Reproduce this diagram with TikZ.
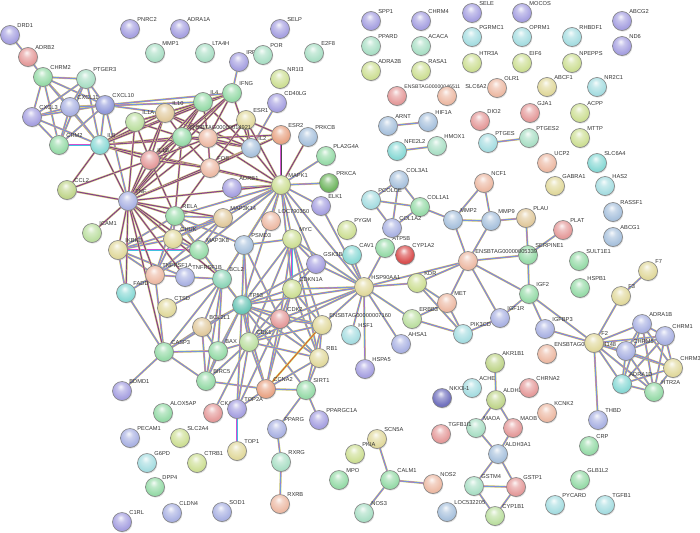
\documentclass[tikz,border=0pt]{standalone}
\usepackage{fontspec}
\setmainfont{Liberation Sans}
\usetikzlibrary{backgrounds,shadows}
\definecolor{pur}{HTML}{A49EE0}
\definecolor{peri}{HTML}{A8B0E2}
\definecolor{blu}{HTML}{9098DA}
\definecolor{grn}{HTML}{94DAA6}
\definecolor{mint}{HTML}{A8DEC4}
\definecolor{lgrn}{HTML}{BADE9E}
\definecolor{ygrn}{HTML}{CCDE92}
\definecolor{olive}{HTML}{BED488}
\definecolor{tan}{HTML}{E0C89A}
\definecolor{khaki}{HTML}{E0D89A}
\definecolor{peach}{HTML}{ECB8A2}
\definecolor{orng}{HTML}{E8A282}
\definecolor{redd}{HTML}{E49898}
\definecolor{red2}{HTML}{D84848}
\definecolor{teal}{HTML}{86D8D4}
\definecolor{lteal}{HTML}{A4DCE0}
\definecolor{tealg}{HTML}{8AD4B6}
\definecolor{dteal}{HTML}{66C4B4}
\definecolor{bgray}{HTML}{A6C0DC}
\definecolor{dgrn}{HTML}{6CB45C}
\definecolor{navy}{HTML}{6C6CBC}
\definecolor{ecyan}{HTML}{40C0E0}
\definecolor{eyel}{HTML}{C8E060}
\definecolor{emag}{HTML}{D050D0}
\definecolor{ered}{HTML}{E04030}
\colorlet{gcol}{white}
\pgfdeclareradialshading[gcol]{gball}{\pgfpoint{-4bp}{12bp}}{color(0bp)=(gcol!10!white); color(10bp)=(gcol!60!white); color(24bp)=(gcol!95!white); color(38bp)=(gcol!92!black); color(50bp)=(gcol!72!black)}
\tikzset{
 gcolor/.code={\colorlet{gcol}{#1}},
 gnode/.style={circle, minimum size=19pt, inner sep=0pt, draw=black!50, line width=0.6pt, gcolor=#1, shading=gball, label distance=0.5pt,
   drop shadow={opacity=0.25, shadow xshift=0.8pt, shadow yshift=-1.1pt}},
 glabel/.style={font=\fontsize{5.7}{6}\selectfont, text=black!80, inner sep=0.3pt},
 edA/.style={draw=ecyan, line width=0.45pt, preaction={draw=eyel, line width=2.0pt}, preaction={draw=emag, line width=1.2pt}},
 edB/.style={draw=black!70, line width=0.45pt, preaction={draw=eyel, line width=2.0pt}, preaction={draw=emag, line width=1.2pt}},
 edR/.style={draw=ered, line width=0.7pt, preaction={draw=eyel, line width=2.0pt}},
}
\newcommand\gn[5]{\node[gnode=#4, label={[glabel]45:#5}] (#1) at (#2,#3) {};}
\newcommand\gu[4]{\node[gnode=#4] (#1) at (#2,#3) {};}
\begin{document}
\begin{tikzpicture}[x=1pt,y=-1pt]
\useasboundingbox (0,0) rectangle (700,532);
% nodes
\gn{drd1}{10}{35}{pur}{DRD1}
\gn{adrb2}{28}{57}{redd}{ADRB2}
\gn{chrm2}{43}{77}{grn}{CHRM2}
\gn{ptger3}{86}{79}{mint}{PTGER3}
\gn{cxcl11}{70}{107}{peri}{CXCL11}
\gn{cxcl10}{105}{105}{blu}{CXCL10}
\gn{cxcl3}{32}{117}{pur}{CXCL3}
\gn{crm2}{59}{145}{grn}{CRM2}
\gn{il8}{100}{145}{teal}{IL8}
\gn{pnrc2}{130}{29}{pur}{PNRC2}
\gn{adra1a}{180}{29}{pur}{ADRA1A}
\gn{mmp1}{155}{53}{mint}{MMP1}
\gn{lta4h}{205}{53}{mint}{LTA4H}
\gn{il1a}{135}{122}{lgrn}{IL1A}
\gn{il10}{165}{113}{tan}{IL10}
\gn{il4}{203}{102}{grn}{IL4}
\gn{ifng}{232}{93}{grn}{IFNG}
\gn{irf1}{239}{62}{pur}{IRF1}
\gn{selp}{280}{29}{pur}{SELP}
\gn{por}{263}{55}{mint}{POR}
\gn{e2f8}{314}{53}{mint}{E2F8}
\gn{nr1i3}{280}{79}{ygrn}{NR1I3}
\gn{cd40lg}{277}{103}{pur}{CD40LG}
\gn{esr1}{246}{120}{khaki}{ESR1}
\gn{ens14921}{182}{137}{grn}{ENSBTAG00000014921}
\gu{ensor}{208}{138}{peach}
\gn{il2}{251}{148}{bgray}{IL2}
\gn{esr2}{281}{135}{orng}{ESR2}
\gn{prkcb}{308}{137}{bgray}{PRKCB}
\gn{il1b}{150}{160}{redd}{IL1B}
\gn{fos}{210}{168}{peach}{FOS}
\gn{ccl2}{67}{190}{olive}{CCL2}
\gn{tnf}{128}{201}{peri}{TNF}
\gn{adrb1}{232}{188}{pur}{ADRB1}
\gn{rela}{175}{216}{grn}{RELA}
\gn{map3k14}{223}{218}{tan}{MAP3K14}
\gn{icam1}{92}{233}{lgrn}{ICAM1}
\gn{chuk}{173}{239}{khaki}{CHUK}
\gn{ikbkb}{118}{250}{khaki}{IKBKB}
\gn{map3k8}{199}{250}{grn}{MAP3K8}
\gn{tnfrsf1a}{155}{275}{peach}{TNFRSF1A}
\gn{tnfrsf1b}{185}{277}{peri}{TNFRSF1B}
\gn{fadd}{126}{293}{teal}{FADD}
\gn{bcl2}{222}{279}{tealg}{BCL2}
\gn{ctsd}{167}{308}{khaki}{CTSD}
\gn{bcl2l1}{202}{327}{tan}{BCL2L1}
\gn{casp3}{164}{352}{grn}{CASP3}
\gn{bax}{218}{351}{grn}{BAX}
\gn{birc5}{206}{381}{grn}{BIRC5}
\gn{bdmd1}{122}{391}{pur}{BDMD1}
\gn{mapk1}{281}{185}{ygrn}{MAPK1}
\gn{pla2g4a}{326}{156}{grn}{PLA2G4A}
\gn{prkca}{329}{183}{dgrn}{PRKCA}
\gn{elk1}{321}{206}{pur}{ELK1}
\gn{loc790350}{271}{221}{peach}{LOC790350}
\gn{psmd3}{244}{245}{bgray}{PSMD3}
\gn{myc}{292}{239}{ygrn}{MYC}
\gn{pygm}{347}{230}{ygrn}{PYGM}
\gn{gsk3b}{316}{264}{pur}{GSK3B}
\gn{cav1}{352}{255}{teal}{CAV1}
\gn{atp5b}{385}{248}{grn}{ATP5B}
\gn{cyp1a2}{405}{255}{red2}{CYP1A2}
\gn{col3a1}{399}{180}{bgray}{COL3A1}
\gn{pcolce}{371}{200}{lteal}{PCOLCE}
\gn{col1a1}{420}{207}{grn}{COL1A1}
\gn{col1a2}{392}{228}{peri}{COL1A2}
\gn{nfe2l2}{397}{151}{teal}{NFE2L2}
\gn{hmox1}{437}{146}{mint}{HMOX1}
\gn{arnt}{388}{126}{bgray}{ARNT}
\gn{hif1a}{428}{122}{bgray}{HIF1A}
\gn{mmp2}{453}{220}{bgray}{MMP2}
\gn{ncf1}{484}{183}{peach}{NCF1}
\gn{mmp9}{491}{221}{bgray}{MMP9}
\gn{plau}{526}{218}{tan}{PLAU}
\gn{plat}{563}{230}{redd}{PLAT}
\gn{serpine1}{528}{255}{grn}{SERPINE1}
\gn{ens5339}{468}{261}{peach}{ENSBTAG00000005339}
\gn{sult1e1}{579}{261}{grn}{SULT1E1}
\gn{ucp2}{547}{163}{peach}{UCP2}
\gn{slc6a4}{597}{163}{teal}{SLC6A4}
\gn{gabra1}{555}{186}{khaki}{GABRA1}
\gn{has2}{605}{186}{lteal}{HAS2}
\gn{rassf1}{613}{212}{bgray}{RASSF1}
\gn{abcg1}{613}{237}{bgray}{ABCG1}
\gn{f7}{648}{271}{khaki}{F7}
\gn{hspb1}{580}{288}{grn}{HSPB1}
\gn{f3}{621}{296}{khaki}{F3}
\gn{igf2}{529}{294}{grn}{IGF2}
\gn{igf1r}{500}{318}{peri}{IGF1R}
\gn{pik3cd}{463}{334}{lteal}{PIK3CD}
\gn{igfbp3}{545}{329}{peri}{IGFBP3}
\gn{ens4148}{547}{354}{peach}{ENSBTAG00000004148}
\gn{f2}{594}{343}{khaki}{F2}
\gn{adra1b}{642}{324}{peri}{ADRA1B}
\gn{chrm1}{665}{336}{peri}{CHRM1}
\gn{chrm5}{626}{351}{peri}{CHRM5}
\gn{chrm3}{673}{368}{khaki}{CHRM3}
\gn{adra1d}{622}{384}{teal}{ADRA1D}
\gn{htr2a}{654}{392}{grn}{HTR2A}
\gn{thbd}{598}{420}{peri}{THBD}
\gn{crp}{589}{446}{grn}{CRP}
\gn{glb1l2}{580}{480}{grn}{GLB1L2}
\gn{pycard}{555}{505}{lteal}{PYCARD}
\gn{tgfb1}{605}{505}{lteal}{TGFB1}
\gn{kcnk2}{547}{413}{peach}{KCNK2}
\gn{akr1b1}{495}{363}{olive}{AKR1B1}
\gn{ache}{472}{388}{lteal}{ACHE}
\gn{nkx31}{442}{398}{navy}{NKX3-1}
\gn{aldh2}{496}{400}{olive}{ALDH2}
\gn{chrna2}{529}{388}{redd}{CHRNA2}
\gn{maob}{513}{428}{redd}{MAOB}
\gn{maoa}{476}{428}{mint}{MAOA}
\gn{tgfb1i1}{441}{434}{redd}{TGFB1I1}
\gn{aldh3a1}{498}{454}{bgray}{ALDH3A1}
\gn{gstm4}{474}{486}{mint}{GSTM4}
\gn{gstp1}{516}{487}{redd}{GSTP1}
\gn{cyp1b1}{495}{516}{lgrn}{CYP1B1}
\gn{loc532205}{447}{512}{bgray}{LOC532205}
\gn{hsp90}{364}{287}{khaki}{HSP90AA1}
\gn{kdr}{417}{283}{ygrn}{KDR}
\gn{met}{447}{303}{peach}{MET}
\gn{erbb3}{412}{319}{lgrn}{ERBB3}
\gn{ens7160}{322}{325}{khaki}{ENSBTAG00000007160}
\gn{hsf1}{351}{335}{lteal}{HSF1}
\gn{ahsa1}{401}{344}{peri}{AHSA1}
\gn{hspa5}{365}{369}{pur}{HSPA5}
\gn{tp53}{242}{305}{dteal}{TP53}
\gn{cdk2}{280}{319}{redd}{CDK2}
\gn{cdk1}{249}{342}{lgrn}{CDK1}
\gn{cdkn1a}{292}{289}{ygrn}{CDKN1A}
\gn{rb1}{319}{358}{khaki}{RB1}
\gn{ccna2}{266}{389}{orng}{CCNA2}
\gn{sirt1}{306}{390}{grn}{SIRT1}
\gn{ckap2}{213}{413}{redd}{CKAP2}
\gn{top2a}{237}{409}{pur}{TOP2A}
\gn{top1}{237}{451}{khaki}{TOP1}
\gn{pparg}{277}{429}{peri}{PPARG}
\gn{ppargc1a}{319}{420}{pur}{PPARGC1A}
\gn{rxrg}{281}{462}{mint}{RXRG}
\gn{rxrb}{280}{504}{peach}{RXRB}
\gn{scn5a}{377}{439}{khaki}{SCN5A}
\gn{pkia}{355}{454}{ygrn}{PKIA}
\gn{mpo}{339}{480}{grn}{MPO}
\gn{calm1}{390}{480}{grn}{CALM1}
\gn{nos2}{433}{484}{peach}{NOS2}
\gn{nos3}{364}{513}{mint}{NOS3}
\gn{sod1}{222}{512}{peri}{SOD1}
\gn{cldn4}{172}{513}{peri}{CLDN4}
\gn{c1rl}{122}{522}{pur}{C1RL}
\gn{dpp4}{155}{487}{grn}{DPP4}
\gn{g6pd}{147}{463}{lteal}{G6PD}
\gn{ctrb1}{197}{463}{ygrn}{CTRB1}
\gn{pecam1}{130}{438}{peri}{PECAM1}
\gn{slc2a4}{180}{438}{ygrn}{SLC2A4}
\gn{alox5ap}{163}{413}{grn}{ALOX5AP}
\gn{spp1}{371}{21}{pur}{SPP1}
\gn{chrm4}{421}{21}{pur}{CHRM4}
\gn{ppard}{371}{46}{mint}{PPARD}
\gn{acaca}{421}{46}{mint}{ACACA}
\gn{adra2b}{371}{71}{ygrn}{ADRA2B}
\gn{rasa1}{421}{71}{ygrn}{RASA1}
\node[gnode=redd, label={[glabel, font=\fontsize{5.2}{6}\selectfont]45:ENSBTAG00000046511}] (ens46511) at (397,96) {};
\node[gnode=peach, label={[glabel, xshift=11pt]45:SLC6A2}] (slc6a2) at (447,96) {};
\gn{sele}{472}{13}{pur}{SELE}
\gn{mocos}{522}{13}{pur}{MOCOS}
\gn{abcg2}{622}{21}{pur}{ABCG2}
\gn{nd6}{622}{46}{pur}{ND6}
\gn{pgrmc1}{472}{37}{lteal}{PGRMC1}
\gn{oprm1}{522}{37}{lteal}{OPRM1}
\gn{rhbdf1}{572}{37}{lteal}{RHBDF1}
\gn{htr3a}{472}{63}{ygrn}{HTR3A}
\gn{eif6}{522}{63}{ygrn}{EIF6}
\gn{npepps}{572}{63}{ygrn}{NPEPPS}
\gn{olr1}{497}{88}{peach}{OLR1}
\gn{abcf1}{547}{87}{khaki}{ABCF1}
\gn{nr2c1}{597}{87}{lteal}{NR2C1}
\gn{dio2}{480}{121}{redd}{DIO2}
\gn{gja1}{530}{113}{redd}{GJA1}
\gn{acpp}{580}{113}{ygrn}{ACPP}
\gn{ptges}{488}{143}{lteal}{PTGES}
\gn{ptges2}{529}{138}{mint}{PTGES2}
\gn{mttp}{580}{138}{ygrn}{MTTP}
% edges
\begin{pgfonlayer}{background}
\fill[white] (0,0) rectangle (700,532);
\foreach \a/\b in {drd1/adrb2, adrb2/chrm2, chrm2/ptger3, chrm2/cxcl11, chrm2/cxcl3, chrm2/crm2, chrm2/il8, chrm2/cxcl10,
 ptger3/cxcl11, ptger3/cxcl10, ptger3/cxcl3, ptger3/crm2, ptger3/il8, cxcl11/cxcl10, cxcl11/cxcl3, cxcl11/crm2, cxcl11/il8,
 cxcl10/cxcl3, cxcl10/crm2, cxcl10/il8, cxcl3/crm2, cxcl3/il8, crm2/il8, cxcl10/ifng, cxcl10/il10, cxcl10/tnf, cxcl11/il4,
 rela/chuk, rela/ikbkb, rela/map3k14, rela/map3k8, rela/tnfrsf1a, rela/mapk1, rela/bcl2, rela/tp53, rela/psmd3,
 chuk/ikbkb, chuk/map3k14, chuk/map3k8, chuk/tnfrsf1a, chuk/mapk1, ikbkb/map3k14, ikbkb/map3k8, ikbkb/tnfrsf1a, ikbkb/tnfrsf1b, ikbkb/fadd,
 map3k14/map3k8, map3k14/tnfrsf1a, map3k14/mapk1, map3k8/mapk1, map3k8/tnfrsf1a, tnfrsf1a/tnfrsf1b, tnfrsf1a/fadd, tnfrsf1a/casp3,
 fadd/casp3, bcl2/bcl2l1, bcl2/bax, bcl2/casp3, bcl2/birc5, bcl2/tp53, bcl2/ctsd, bcl2/mapk1, bcl2/psmd3, bcl2/tnfrsf1b,
 bcl2l1/bax, bcl2l1/casp3, bcl2l1/tp53, bcl2l1/birc5, casp3/bax, casp3/birc5, casp3/bdmd1, casp3/tp53, bax/tp53, bax/birc5, bax/cdk1,
 birc5/tp53, birc5/cdk1, birc5/ccna2,
 mapk1/pla2g4a, mapk1/prkca, mapk1/elk1, mapk1/loc790350, mapk1/myc, mapk1/psmd3, mapk1/tp53, mapk1/hsp90, mapk1/gsk3b, mapk1/cdkn1a, mapk1/adrb1,
 psmd3/tp53, psmd3/myc, psmd3/cdk1, psmd3/cdk2, myc/tp53, myc/cdk2, myc/cdkn1a, myc/gsk3b, myc/hsp90, myc/ens7160, myc/rb1, myc/cdk1,
 gsk3b/hsp90, gsk3b/tp53, gsk3b/cdkn1a, cdkn1a/tp53, cdkn1a/cdk2, cdkn1a/cdk1, cdkn1a/hsp90, cdkn1a/ccna2, cdkn1a/rb1, cdkn1a/ens7160,
 tp53/cdk2, tp53/cdk1, tp53/hsp90, tp53/rb1, tp53/sirt1, tp53/ccna2, tp53/ens7160, tp53/top2a, cdk2/cdk1, cdk2/ccna2, cdk2/rb1, cdk2/ens7160,
 cdk2/hsp90, cdk2/top2a, cdk1/ccna2, cdk1/rb1, cdk1/top2a, cdk1/ens7160, cdk1/ckap2, ens7160/rb1, ens7160/hsp90, ens7160/sirt1,
 rb1/ccna2, rb1/sirt1, ccna2/top2a, ccna2/sirt1, sirt1/ppargc1a, sirt1/pparg, top2a/top1, pparg/rxrg, rxrg/rxrb,
 hsp90/kdr, hsp90/ens5339, hsp90/erbb3, hsp90/ahsa1, hsp90/hsf1, hsp90/hspa5, hsp90/cav1, hsp90/atp5b, hsp90/cdk1, hsp90/elk1,
 kdr/ens5339, kdr/met, kdr/pik3cd, met/erbb3, met/pik3cd, met/ens5339, erbb3/pik3cd, igf1r/pik3cd, igf1r/igf2, igf1r/ens5339,
 igf2/igfbp3, igf2/serpine1, igf2/f2, igf2/ens5339, igfbp3/f2, ens5339/mmp2, ens5339/mmp9, ens5339/serpine1, mmp2/mmp9, mmp2/ncf1,
 mmp9/ncf1, mmp9/plau, plau/serpine1, plat/serpine1, mmp2/col1a1,
 f2/adra1b, f2/chrm1, f2/chrm5, f2/chrm3, f2/adra1d, f2/htr2a, f2/thbd, f2/f3, f3/f7,
 adra1b/chrm1, adra1b/chrm5, adra1b/chrm3, adra1b/adra1d, adra1b/htr2a, chrm1/chrm5, chrm1/chrm3, chrm1/adra1d, chrm1/htr2a,
 chrm5/chrm3, chrm5/adra1d, chrm5/htr2a, chrm3/adra1d, chrm3/htr2a, adra1d/htr2a,
 col3a1/pcolce, col3a1/col1a1, col3a1/col1a2, pcolce/col1a1, pcolce/col1a2, col1a1/col1a2,
 nfe2l2/hmox1, arnt/hif1a, ptges/ptges2,
 akr1b1/aldh2, aldh2/maoa, aldh2/maob, maoa/aldh3a1, maob/aldh3a1, aldh3a1/gstm4, aldh3a1/gstp1, gstm4/gstp1, gstm4/cyp1b1, gstp1/cyp1b1,
 scn5a/calm1, calm1/nos2, calm1/nos3, irf1/ifng, cd40lg/il2}
 \draw[edA] (\a) -- (\b);
\foreach \a/\b in {il8/il1a, il8/il10, il8/ens14921, il8/il1b, il8/tnf, il8/ccl2, il8/fos, il8/il4, il8/ifng, il8/ensor, il8/mapk1,
 il1a/il10, il1a/il1b, il1a/tnf, il1a/ens14921, il1a/il4, il1a/ifng, il10/il4, il10/ifng, il10/ens14921, il10/il1b, il10/tnf, il10/il2, il10/ensor,
 il4/ifng, il4/ens14921, il4/il2, il4/tnf, il4/il1b, il4/ensor, ifng/ens14921, ifng/il2, ifng/tnf, ifng/il1b, ifng/ensor,
 ens14921/ensor, ens14921/il1b, ens14921/tnf, ens14921/fos, ens14921/il2, ens14921/rela, ensor/il2, ensor/fos, ensor/esr1, ensor/esr2,
 ensor/il1b, ensor/tnf, ensor/mapk1, esr1/esr2, esr1/il2, esr1/fos, esr1/mapk1, il2/tnf, il2/mapk1, il2/fos, il2/esr2, esr2/mapk1, esr2/fos,
 prkcb/mapk1, il1b/tnf, il1b/fos, il1b/rela, il1b/ccl2, fos/tnf, fos/mapk1, fos/rela, tnf/ccl2, tnf/rela, tnf/icam1, tnf/chuk, tnf/ikbkb,
 tnf/map3k14, tnf/map3k8, tnf/tnfrsf1a, tnf/tnfrsf1b, tnf/fadd, tnf/casp3, tnf/bcl2, tnf/mapk1}
 \draw[edB] (\a) -- (\b);
\draw[edR] (ccna2) -- (ens7160);
\end{pgfonlayer}
\end{tikzpicture}
\end{document}
